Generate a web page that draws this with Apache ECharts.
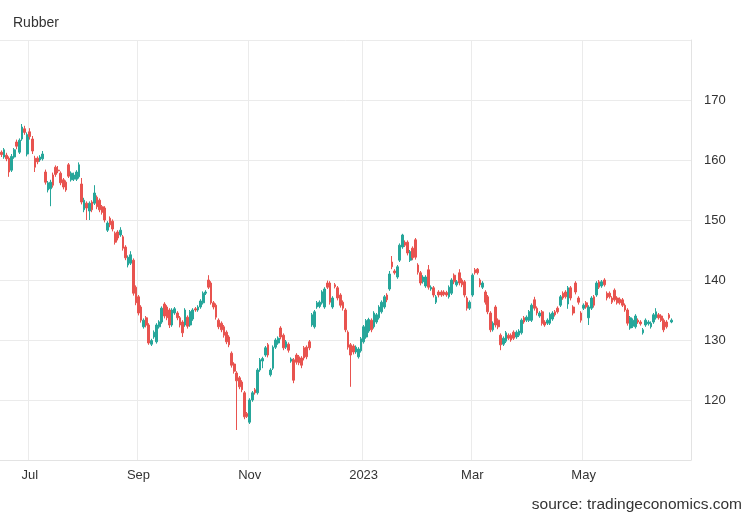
<!DOCTYPE html>
<html><head><meta charset="utf-8">
<script src="https://cdn.jsdelivr.net/npm/echarts@6/dist/echarts.min.js"></script>
<style>html,body{margin:0;padding:0;background:#fff}#c{width:750px;height:520px}</style>
</head><body><div id="c"></div>
<script>
// ---- data ----
const titleText = 'Rubber';
const sourceText = 'source: tradingeconomics.com';
const startDate = '2022-06-16';
const holidays = ['2022-07-04', '2022-08-09'];
const categoryCount = 267;
const monthNames = ['Jan','Feb','Mar','Apr','May','Jun','Jul','Aug','Sep','Oct','Nov','Dec'];
const yMin = 110, yMax = 180, yStep = 10;
const yLabelsShown = [120, 130, 140, 150, 160, 170];
// [open, close, low, high]
const ohlc = [
[161.3,160.9,160.5,161.6],[160.5,161.7,160.2,162.0],[160.8,160.2,159.8,161.2],[160.3,158.0,157.2,160.6],
[158.3,160.6,158.0,161.0],[160.5,161.7,160.2,162.0],[163.0,162.3,161.8,163.4],[161.3,163.3,161.0,163.6],
[163.5,165.5,163.2,166.0],[165.2,164.6,164.2,165.7],[161.0,164.2,160.6,164.6],[164.7,163.9,163.4,165.3],
[163.5,161.5,161.0,164.0],[160.3,158.8,158.0,160.7],[160.3,159.7,159.3,160.6],[160.0,160.5,159.7,160.8],
[160.2,161.0,159.9,161.5],[158.0,156.3,155.9,158.4],[155.0,156.2,154.6,156.5],[155.2,156.3,152.3,156.7],
[157.5,155.8,155.4,157.9],[158.8,157.6,157.2,159.1],[158.3,158.2,157.8,159.0],[157.8,156.2,155.8,158.1],
[156.7,155.5,155.1,157.0],[156.3,155.0,154.7,156.6],[159.2,157.3,157.0,159.5],[156.7,157.8,156.4,158.1],
[156.8,157.5,156.5,157.9],[156.8,158.0,156.5,158.3],[157.2,159.2,156.9,159.6],[156.0,153.0,152.6,157.0],
[151.7,153.3,151.3,153.7],[152.8,152.0,150.0,153.1],[151.5,152.8,150.0,153.1],[153.0,151.7,151.3,153.3],
[152.8,154.5,152.5,155.8],[153.8,152.2,151.8,154.1],[153.3,151.7,151.3,153.6],[152.2,151.3,150.9,152.5],
[152.0,150.0,149.6,152.3],[148.3,149.5,148.0,149.8],[150.3,149.2,148.8,150.6],[149.8,148.5,148.1,150.1],
[147.8,146.3,145.9,148.1],[148.0,147.0,146.6,148.3],[147.5,148.3,147.2,148.8],[147.2,145.3,144.9,147.5],
[145.5,143.7,143.3,145.8],[142.5,143.8,142.1,144.1],[142.8,144.2,142.5,144.8],[143.3,137.8,137.4,143.6],
[138.8,136.2,135.8,139.1],[137.2,134.5,134.1,137.5],[135.5,133.3,132.9,135.8],[132.2,133.3,131.9,133.6],
[133.7,132.5,132.1,134.0],[132.5,129.5,129.2,132.8],[129.3,129.9,129.0,130.2],[130.5,131.3,130.2,131.6],
[129.7,132.5,129.4,132.8],[132.2,133.0,131.9,133.3],[133.0,135.3,132.7,135.6],[136.0,134.0,133.6,136.3],
[135.5,133.7,133.3,135.8],[135.0,132.5,132.0,135.3],[132.5,135.0,132.2,135.3],[134.5,135.2,134.2,135.5],
[134.5,133.7,133.3,134.8],[133.7,132.5,132.1,134.0],[133.0,131.2,130.5,133.3],[132.5,135.0,132.2,135.3],
[133.8,132.3,131.9,134.1],[132.5,134.7,132.2,135.0],[133.5,135.0,133.2,135.3],[135.2,135.0,134.7,135.5],
[135.0,135.5,134.7,135.8],[135.5,136.5,135.2,136.8],[136.2,137.8,135.9,138.1],[137.8,138.0,137.5,138.3],
[140.0,138.8,138.5,140.8],[139.5,136.2,135.9,139.8],[136.2,135.5,135.1,136.5],[135.8,133.8,133.4,136.1],
[133.3,132.2,131.8,133.6],[132.8,131.7,131.3,133.1],[132.2,130.8,130.4,132.5],[131.3,129.7,129.3,131.6],
[130.5,129.2,128.8,130.8],[127.8,125.8,125.4,128.1],[126.0,124.8,124.4,126.3],[124.5,123.2,115.0,124.8],
[123.7,122.2,121.8,124.0],[123.0,121.7,121.3,123.3],[121.2,117.2,116.8,121.5],[117.7,117.3,117.0,118.0],
[116.3,120.0,116.0,120.3],[120.0,121.2,119.7,121.5],[121.7,121.2,120.9,122.0],[121.2,125.0,120.9,125.3],
[125.0,126.7,124.7,127.0],[126.5,126.9,125.3,127.2],[127.5,128.7,127.2,129.0],[129.2,127.5,127.1,129.5],
[124.2,125.0,123.9,125.3],[125.3,128.8,125.0,129.1],[128.8,130.0,128.5,130.3],[129.5,130.3,129.2,130.6],
[132.0,130.5,130.1,132.3],[130.8,128.7,128.3,131.1],[128.8,129.7,128.5,130.0],[129.3,128.3,127.9,129.6],
[126.5,126.8,126.2,127.1],[126.7,123.3,122.8,127.0],[127.5,126.3,125.9,127.8],[127.2,126.2,125.8,127.5],
[127.0,125.8,125.3,127.3],[128.7,127.0,126.6,129.0],[128.8,127.2,126.8,129.1],[129.7,128.7,128.3,130.0],
[132.5,134.2,132.2,134.5],[132.2,134.7,131.9,135.0],[135.5,136.2,135.2,136.5],[135.6,136.3,135.3,136.6],
[136.2,138.0,135.9,138.3],[135.5,138.5,135.2,138.8],[139.5,138.8,138.5,139.9],[139.5,136.3,135.9,139.8],
[135.5,137.0,135.2,137.3],[139.2,138.9,138.6,139.5],[138.7,137.0,136.6,139.0],[137.5,135.8,135.4,137.8],
[136.3,135.3,134.9,136.6],[135.0,131.7,131.3,135.3],[131.3,128.8,128.4,131.6],[129.2,127.5,122.2,129.5],
[129.0,128.0,127.6,129.3],[128.0,128.8,127.7,129.1],[127.2,128.5,126.9,128.8],[128.2,130.2,127.9,130.5],
[129.7,132.2,129.4,132.5],[130.5,133.2,130.2,133.5],[131.5,133.4,131.2,133.7],[133.3,131.7,131.3,133.6],
[132.2,134.5,131.9,134.8],[133.0,134.2,132.7,134.5],[133.7,135.5,133.4,135.8],[134.7,136.3,134.4,136.6],
[135.5,137.2,135.2,137.5],[137.5,136.7,136.3,137.8],[138.5,141.0,138.2,141.5],[143.0,142.2,141.8,144.0],
[141.5,141.2,140.9,141.8],[140.5,142.2,140.2,142.5],[143.3,145.8,143.0,146.1],[145.5,147.5,145.2,147.7],
[146.3,145.8,145.5,146.6],[146.3,144.5,144.1,146.6],[143.3,144.7,143.0,145.0],[145.3,143.7,143.3,145.6],
[146.7,143.8,143.4,147.0],[142.5,141.3,140.9,142.8],[141.2,139.5,139.1,141.5],[139.7,140.5,139.4,140.8],
[139.0,140.5,138.7,140.8],[141.7,138.8,138.4,142.5],[138.5,138.8,138.2,139.1],[138.7,137.5,137.1,139.0],
[136.3,137.2,136.0,137.5],[138.0,137.5,137.1,138.3],[138.0,137.5,137.2,138.3],[138.0,137.6,137.3,138.3],
[137.9,137.5,137.2,138.2],[137.2,138.8,136.9,139.1],[137.8,140.0,137.5,140.3],[140.8,139.7,139.3,141.1],
[139.2,139.7,138.9,140.0],[141.2,139.5,139.1,141.8],[140.0,139.2,138.8,140.3],[139.7,137.5,137.1,140.0],
[137.0,135.3,134.9,137.3],[135.3,136.3,135.0,136.6],[137.5,140.8,137.2,141.1],[141.7,141.2,140.9,142.0],
[141.8,141.2,140.9,142.0],[140.0,139.2,138.8,140.3],[138.8,139.5,138.5,139.8],[138.0,136.3,135.9,138.3],
[137.2,134.7,134.3,137.5],[134.5,131.7,131.3,134.8],[131.7,132.8,131.4,133.1],[135.5,132.5,132.1,135.8],
[133.3,132.2,131.8,133.6],[130.8,129.2,128.3,131.1],[129.3,130.3,129.0,130.6],[129.8,131.2,129.5,131.5],
[130.8,130.3,130.0,131.1],[130.8,130.0,129.7,131.1],[131.3,130.3,130.0,131.6],[130.5,131.3,130.2,131.6],
[130.8,131.5,130.5,131.8],[131.2,133.3,130.9,133.6],[133.7,133.0,132.7,134.0],[133.3,133.8,133.0,134.1],
[133.3,134.7,133.0,135.0],[133.3,135.8,133.0,136.1],[136.7,135.3,134.9,137.2],[135.3,134.5,134.1,135.6],
[134.0,134.5,133.7,134.8],[134.7,132.8,132.4,135.0],[133.0,132.5,132.2,133.3],[132.8,133.3,132.5,133.6],
[132.8,134.3,132.5,134.6],[133.5,134.5,133.2,134.8],[134.7,134.2,133.9,135.0],[135.3,134.7,134.4,135.6],
[135.8,137.2,135.5,137.5],[137.8,137.0,136.7,138.1],[138.0,137.2,136.9,138.3],[136.0,138.7,135.2,139.0],
[138.7,137.0,136.6,139.0],[135.5,134.5,134.1,135.8],[139.5,138.0,137.6,139.8],[137.0,136.3,135.9,137.3],
[134.5,133.3,132.9,134.8],[135.3,135.8,135.0,136.1],[136.2,135.5,135.2,136.5],[133.7,135.5,132.5,135.8],
[135.3,137.0,135.0,137.3],[137.2,135.8,135.4,137.5],[137.5,139.5,137.2,139.8],[139.7,138.8,138.5,140.0],
[139.0,139.7,138.7,140.0],[140.0,139.2,138.9,140.3],[137.8,137.0,136.6,138.1],[137.8,137.2,136.9,138.1],
[137.0,136.3,136.0,137.3],[138.3,136.7,136.4,138.6],[137.0,136.2,135.9,137.3],[136.8,136.2,135.9,137.1],
[136.7,135.8,135.5,137.0],[135.8,135.0,134.7,136.1],[135.0,132.8,132.4,135.3],[132.0,133.7,131.7,134.0],
[132.3,133.3,132.0,133.6],[132.2,134.0,131.9,134.3],[133.3,133.0,132.7,133.6],[133.0,132.7,132.4,133.3],
[131.2,131.7,130.9,132.0],[132.5,133.3,132.2,133.6],[132.7,133.0,132.4,133.3],[132.2,132.8,131.9,133.1],
[133.0,134.2,132.7,134.5],[133.7,134.7,133.4,135.3],[134.2,133.7,133.4,134.5],[134.0,133.3,133.0,134.3],
[133.3,131.7,131.3,133.6],[133.0,132.2,131.9,133.3],[134.2,133.7,133.4,134.5],[133.0,133.3,132.8,133.6]
];

// ---- trading-day categories ----
const dates = [];
(function () {
  const d = new Date(startDate + 'T00:00:00Z');
  while (dates.length < categoryCount) {
    const wd = d.getUTCDay();
    const s = d.toISOString().slice(0, 10);
    if (wd !== 0 && wd !== 6 && holidays.indexOf(s) < 0) dates.push(s);
    d.setUTCDate(d.getUTCDate() + 1);
  }
})();
const monthOf = s => parseInt(s.slice(5, 7), 10) - 1;
function isLabelDay(i) {
  if (i === 0) return false;
  const m = monthOf(dates[i]);
  return m !== monthOf(dates[i - 1]) && m % 2 === 0;
}

const UP = '#26a69a', DOWN = '#e8534f';
const FONT = 'Liberation Sans, Arial, sans-serif';
const chart = echarts.init(document.getElementById('c'), null, { renderer: 'canvas' });
chart.setOption({
  animation: false,
  backgroundColor: '#ffffff',
  title: {
    text: titleText, left: 8, top: 11,
    textStyle: { fontSize: 14, fontWeight: 'normal', color: '#333', fontFamily: FONT }
  },
  graphic: [{
    type: 'text', right: 8, bottom: 7,
    style: { text: sourceText, fill: '#333', font: '15.5px "Liberation Sans", Arial, sans-serif' }
  }],
  grid: { left: 0, right: 59, top: 40, bottom: 60 },
  xAxis: {
    type: 'category',
    data: dates,
    boundaryGap: true,
    axisLine: { show: true, lineStyle: { color: '#e3e3e3' } },
    axisTick: { show: false },
    axisLabel: {
      interval: (i) => isLabelDay(i),
      formatter: (v) => { const m = monthOf(v); return m === 0 ? v.slice(0, 4) : monthNames[m]; },
      color: '#333', fontSize: 13, margin: 9, fontFamily: FONT
    },
    splitLine: { show: true, interval: (i) => isLabelDay(i), lineStyle: { color: '#ebebeb', width: 1 } }
  },
  yAxis: {
    type: 'value', position: 'right',
    min: yMin, max: yMax, interval: yStep,
    axisLine: { show: true, lineStyle: { color: '#e3e3e3' } },
    axisTick: { show: false },
    axisLabel: {
      formatter: (v) => yLabelsShown.indexOf(v) >= 0 ? String(v) : '',
      color: '#333', fontSize: 13, margin: 13, fontFamily: FONT
    },
    splitLine: { show: true, lineStyle: { color: '#ebebeb', width: 1 } }
  },
  series: [{
    type: 'candlestick',
    data: ohlc,
    barWidth: 2.2,
    itemStyle: { color: UP, color0: DOWN, borderColor: UP, borderColor0: DOWN, borderWidth: 1 }
  }]
});
</script>
</body></html>
